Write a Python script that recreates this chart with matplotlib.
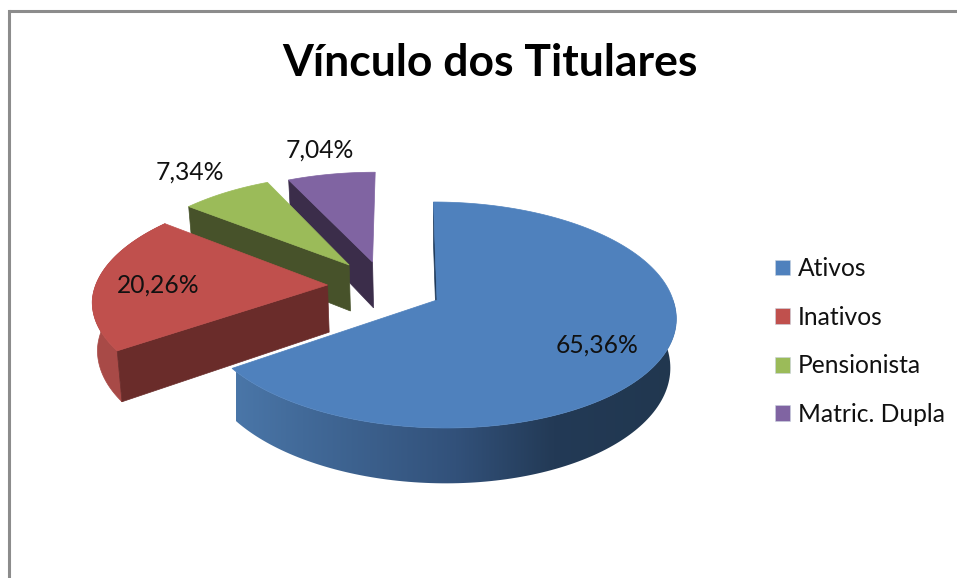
import numpy as np
import matplotlib
matplotlib.use("Agg")
import matplotlib.pyplot as plt
from matplotlib.patches import Polygon, Patch
from matplotlib.colors import LinearSegmentedColormap

# Data
categories = ["Ativos", "Inativos", "Pensionista", "Matric. Dupla"]
values = [65.36, 20.26, 7.34, 7.04]
value_labels = ["65,36%", "20,26%", "7,34%", "7,04%"]
title = "Vínculo dos Titulares"

# Style
top_colors = ["#4f81bd", "#c0504d", "#9bbb59", "#8064a2"]
radial_colors = ["#1f3a5a", "#6a2c2a", "#47522a", "#3b2d4a"]
explode_uv = [(0.0, 0.0), (-0.47, 0.1376), (-0.383, 0.329), (-0.28, 0.3585)]
label_xy = [(597, 345), (158, 285), (190, 172), (320, 150)]
FONT = "Lato"

W, H = 957, 578
fig = plt.figure(figsize=(W / 100, H / 100), dpi=100)
ax = fig.add_axes([0, 0, 1, 1])
ax.axis("off")


def project(u, v, drop=0.0):
    """Perspective projection of the pie plane to the picture."""
    u, v = np.asarray(u, float), np.asarray(v, float)
    d = 1 + 0.1327 * v
    x = (437 + 236 * u + 50 * v + 4 * np.clip(v, 0, 1)) / d
    y = (300 - 71.2 * v + drop) / d
    if drop:
        x = 437 + (x - 437) * np.where(x < 437, 0.985, 0.975)
    return x, y


DEPTH = 48
edges = np.cumsum([0] + values) / 100 * 2 * np.pi
side_cmap = LinearSegmentedColormap.from_list(
    "side", [(0, "#4a76a8"), (0.15, "#426a99"), (0.5, "#32517a"),
             (0.72, "#233a56"), (1, "#21374f")])
red_side = "#a84a47"


def arc(i, n=200):
    th = np.linspace(edges[i], edges[i + 1], n)
    ou, ov = explode_uv[i]
    return ou + np.sin(th), ov + np.cos(th)


for i in [3, 2, 1, 0]:
    ou, ov = explode_uv[i]
    au, av = arc(i)
    ax0, ay0 = project(ou, ov)
    ax1, ay1 = project(ou, ov, DEPTH)
    tx, ty = project(au, av)
    bx, by = project(au, av, DEPTH)
    z = -10 * i

    # curved outer side
    if i == 0:
        keep = av < 0.35
        poly = np.r_[np.c_[tx[keep], ty[keep]], np.c_[bx[keep], by[keep]][::-1]]
        clip = Polygon(poly, closed=True, fc="none", ec="none", transform=ax.transData)
        ax.add_patch(clip)
        im = ax.imshow(np.linspace(0, 1, 256)[None, :], cmap=side_cmap, aspect="auto",
                       extent=(236, 677, 500, 300), zorder=z + 1, interpolation="bilinear")
        im.set_clip_path(clip)
    elif i == 1:
        ax.add_patch(Polygon(np.r_[np.c_[tx, ty], np.c_[bx, by][::-1]],
                             closed=True, fc=red_side, ec=red_side, lw=0.5, zorder=z + 1))

    # radial face seen from the viewer
    face = [(tx[0], ty[0]), (ax0, ay0), (ax1, ay1), (bx[0], by[0])]
    ax.add_patch(Polygon(face, closed=True, fc=radial_colors[i], ec=radial_colors[i],
                         lw=0.5, zorder=z + 2))

    # top surface
    ax.add_patch(Polygon(np.r_[[(ax0, ay0)], np.c_[tx, ty]], closed=True,
                         fc=top_colors[i], ec=top_colors[i], lw=0.5, zorder=z + 3))

ax.set_xlim(0, W)
ax.set_ylim(H, 0)

for txt, (x, y) in zip(value_labels, label_xy):
    ax.text(x, y, txt, family=FONT, fontsize=17.7, color="#111111",
            ha="center", va="center", zorder=10)

ax.text(490, 63, title, family=FONT, fontsize=32, fontweight="bold", color="black",
        ha="center", va="center", zorder=10)

# chart frame
ax.plot([9, 9], [H, 11], color="#8c8c8c", lw=2.2, solid_capstyle="projecting", zorder=11)
ax.plot([9, W], [11, 11], color="#8c8c8c", lw=2.2, solid_capstyle="butt", zorder=11)

handles = [Patch(fc=c, ec="#c9d3e0", lw=0.4) for c in top_colors]
leg = ax.legend(handles, categories, loc="center left",
                bbox_to_anchor=(775 / W, 1 - 341.5 / H), frameon=False,
                prop={"family": FONT, "size": 17.7},
                handlelength=0.61, handleheight=0.61, handletextpad=0.33,
                labelspacing=1.04, borderpad=0, borderaxespad=0)
for t in leg.get_texts():
    t.set_color("#111111")

fig.savefig("out.png", dpi=100)
